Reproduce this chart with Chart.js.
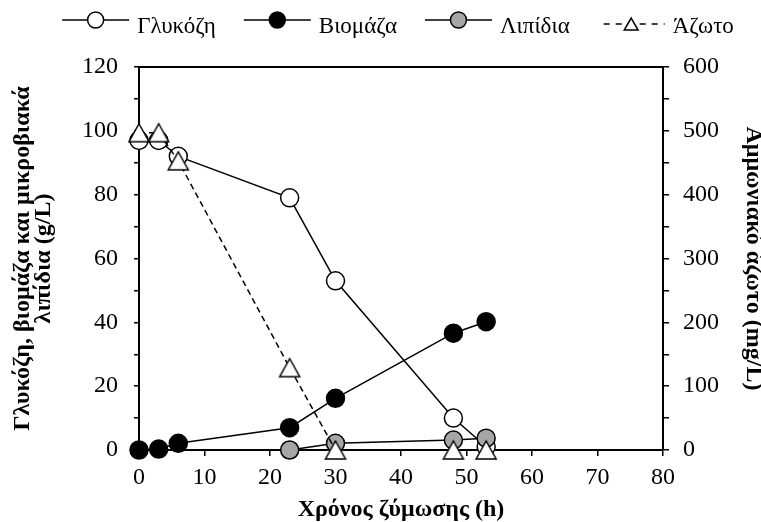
<!DOCTYPE html>
<html><head><meta charset="utf-8">
<script src="https://cdn.jsdelivr.net/npm/chart.js@4/dist/chart.umd.min.js"></script>
<style>html,body{margin:0;padding:0;background:#fff;}</style>
</head><body>
<canvas id="c" width="761" height="522"></canvas>
<script>
// ---- data ----
const timeGlucose = [0, 3, 6, 23, 30, 48, 53];
const glucose = [97, 97, 92, 79, 53, 10, 1];
const timeBiomass = [0, 3, 6, 23, 30, 48, 53];
const biomass = [0, 0.3, 2.1, 7, 16.2, 36.6, 40.2];
const timeLipids = [23, 30, 48, 53];
const lipids = [0, 2.1, 3.1, 3.7];
const timeNitrogen = [0, 3, 6, 23, 30, 48, 53];
const nitrogen = [497, 497, 453, 129, 0, 0, 0];
const seriesNames = ['Γλυκόζη', 'Βιομάζα', 'Λιπίδια', 'Άζωτο'];
const xTitle = 'Χρόνος ζύμωσης (h)';
const yLeftTitle = ['Γλυκόζη, βιομάζα και μικροβιακά', 'λιπίδια (g/L)'];
const yRightTitle = 'Αμμωνιακό άζωτο (mg/L)';

const FONT = '"Liberation Serif", "Times New Roman", serif';
Chart.defaults.font.family = FONT;
Chart.defaults.color = '#000';

function pts(xs, ys) { return xs.map((x, i) => ({x: x, y: ys[i]})); }

function triImage(w, h, lw) {
  const c = document.createElement('canvas');
  c.width = w + 4; c.height = h + 4;
  const g = c.getContext('2d');
  g.beginPath();
  g.moveTo(c.width / 2, 2);
  g.lineTo(c.width - 2, h + 2);
  g.lineTo(2, h + 2);
  g.closePath();
  g.fillStyle = '#fff'; g.fill();
  g.lineWidth = lw; g.strokeStyle = '#000'; g.lineJoin = 'miter'; g.stroke();
  return c;
}
const triangle = triImage(20, 18, 1.5);

const common = {
  borderColor: '#000', borderWidth: 1.5, pointBorderColor: '#000',
  pointBorderWidth: 1.5, pointRadius: 9, pointHoverRadius: 9, clip: false, tension: 0
};

const legendPlugin = {
  id: 'refLegend',
  afterDraw(chart) {
    const ctx = chart.ctx;
    const ds = chart.data.datasets;
    ctx.save();
    ctx.font = '23px ' + FONT;
    const dashed = ds.map(d => !!(d.borderDash && d.borderDash.length));
    const symW = 67, gap1 = 8, gap2 = 28;
    const tw = ds.map(d => ctx.measureText(d.label).width);
    let total = gap2 * (ds.length - 1);
    ds.forEach((d, i) => total += symW + gap1 + tw[i]);
    let x = 398 - total / 2;
    ds.forEach((d, i) => {
      const ly = dashed[i] ? 24 : 20;
      ctx.beginPath();
      ctx.setLineDash(dashed[i] ? [6, 6] : []);
      ctx.lineWidth = 1.5; ctx.strokeStyle = '#000';
      ctx.moveTo(x + (dashed[i] ? 6 : 0), ly); ctx.lineTo(x + symW, ly); ctx.stroke();
      ctx.setLineDash([]);
      ctx.fillStyle = d.pointBackgroundColor;
      const cx = x + symW / 2;
      if (dashed[i]) {
        Chart.helpers.drawPoint(ctx, {pointStyle: 'triangle', radius: 8, borderWidth: 1.5, rotation: 0}, cx, ly + 2);
      } else {
        Chart.helpers.drawPoint(ctx, {pointStyle: 'circle', radius: 8, borderWidth: 1.5, rotation: 0}, cx, ly);
      }
      ctx.fillStyle = '#000'; ctx.textBaseline = 'alphabetic'; ctx.textAlign = 'left';
      ctx.fillText(d.label, x + symW + gap1, 33);
      x += symW + gap1 + tw[i] + gap2;
    });
    ctx.restore();
  }
};

const framePlugin = {
  id: 'frameTop',
  beforeDatasetsDraw(chart) {
    const a = chart.chartArea, ctx = chart.ctx;
    ctx.save();
    ctx.beginPath(); ctx.lineWidth = 2; ctx.strokeStyle = '#000';
    ctx.moveTo(a.left - 1, a.top); ctx.lineTo(a.right + 1, a.top); ctx.stroke();
    ctx.restore();
  }
};

new Chart(document.getElementById('c'), {
  type: 'line',
  data: {
    datasets: [
      Object.assign({}, common, {label: seriesNames[0], data: pts(timeGlucose, glucose), yAxisID: 'y', pointStyle: 'circle', pointBackgroundColor: '#fff', order: 3}),
      Object.assign({}, common, {label: seriesNames[1], data: pts(timeBiomass, biomass), yAxisID: 'y', pointStyle: 'circle', pointBackgroundColor: '#000', order: 2}),
      Object.assign({}, common, {label: seriesNames[2], data: pts(timeLipids, lipids), yAxisID: 'y', pointStyle: 'circle', pointBackgroundColor: '#a6a6a6', order: 1}),
      Object.assign({}, common, {label: seriesNames[3], data: pts(timeNitrogen, nitrogen), yAxisID: 'y1', pointStyle: triangle, pointBackgroundColor: '#fff', borderDash: [6, 4], order: 0})
    ]
  },
  options: {
    responsive: false, animation: false, devicePixelRatio: 1,
    layout: {padding: {top: 67, left: 0, right: 0, bottom: 0}},
    plugins: {legend: {display: false}, tooltip: {enabled: false}},
    scales: {
      x: {
        type: 'linear', min: 0, max: 80,
        ticks: {stepSize: 10, padding: 7, font: {size: 24}, color: '#000', maxRotation: 0},
        grid: {drawOnChartArea: false, drawTicks: true, tickLength: 6, color: '#000', lineWidth: 1.5},
        border: {display: true, color: '#000', width: 2},
        title: {display: true, text: xTitle, font: {size: 24, weight: 'bold', lineHeight: '22px'}, padding: {top: 0, bottom: 1}, color: '#000'},
        afterFit(s) { s.height = 72; }
      },
      y: {
        position: 'left', min: 0, max: 120,
        ticks: {stepSize: 10, autoSkip: false, padding: 16, font: {size: 24}, color: '#000',
          callback: v => (v % 20 === 0 ? v : '')},
        grid: {drawOnChartArea: false, drawTicks: true, tickLength: 5, color: '#000', lineWidth: 1.5},
        border: {display: true, color: '#000', width: 2},
        title: {display: true, text: yLeftTitle, font: {size: 24, weight: 'bold', lineHeight: '21px'}, padding: {top: 12.5, bottom: 0}, color: '#000'},
        afterFit(s) { s.width = 139; }
      },
      y1: {
        position: 'right', min: 0, max: 600,
        ticks: {stepSize: 50, autoSkip: false, padding: 14, font: {size: 24}, color: '#000',
          callback: v => (v % 100 === 0 ? v : '')},
        grid: {drawOnChartArea: false, drawTicks: true, tickLength: 6, color: '#000', lineWidth: 1.5},
        border: {display: true, color: '#000', width: 2},
        title: {display: true, text: yRightTitle, font: {size: 24, weight: 'bold', lineHeight: '16px'}, padding: {top: 0, bottom: 0}, color: '#000'},
        afterFit(s) { s.width = 98; }
      }
    }
  },
  plugins: [framePlugin, legendPlugin]
});
</script>
</body></html>
